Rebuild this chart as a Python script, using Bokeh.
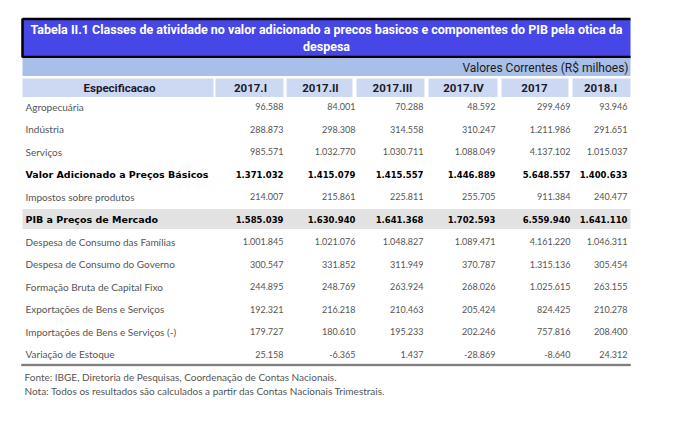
from bokeh.plotting import figure
from bokeh.models import Range1d, ColumnDataSource
from bokeh.core.properties import value
from bokeh.embed import file_html
from bokeh.resources import INLINE

# ---------------- data ----------------
title_lines = [
    "Tabela II.1 Classes de atividade no valor adicionado a precos basicos e componentes do PIB pela otica da",
    "despesa",
]
units_label = "Valores Correntes (R$ milhoes)"
header_first = "Especificacao"
periods = ["2017.I", "2017.II", "2017.III", "2017.IV", "2017", "2018.I"]
rows = [
    "Agropecuária",
    "Indústria",
    "Serviços",
    "Valor Adicionado a Preços Básicos",
    "Impostos sobre produtos",
    "PIB a Preços de Mercado",
    "Despesa de Consumo das Famílias",
    "Despesa de Consumo do Governo",
    "Formação Bruta de Capital Fixo",
    "Exportações de Bens e Serviços",
    "Importações de Bens e Serviços (-)",
    "Variação de Estoque",
]
bold_rows = ["Valor Adicionado a Preços Básicos", "PIB a Preços de Mercado"]
shaded_rows = ["PIB a Preços de Mercado"]

v_2017_I = [96588, 288873, 985571, 1371032, 214007, 1585039, 1001845, 300547, 244895, 192321, 179727, 25158]
v_2017_II = [84001, 298308, 1032770, 1415079, 215861, 1630940, 1021076, 331852, 248769, 216218, 180610, -6365]
v_2017_III = [70288, 314558, 1030711, 1415557, 225811, 1641368, 1048827, 311949, 263924, 210463, 195233, 1437]
v_2017_IV = [48592, 310247, 1088049, 1446889, 255705, 1702593, 1089471, 370787, 268026, 205424, 202246, -28869]
v_2017 = [299469, 1211986, 4137102, 5648557, 911384, 6559940, 4161220, 1315136, 1025615, 824425, 757816, -8640]
v_2018_I = [93946, 291651, 1015037, 1400633, 240477, 1641110, 1046311, 305454, 263155, 210278, 208400, 24312]
series = [v_2017_I, v_2017_II, v_2017_III, v_2017_IV, v_2017, v_2018_I]

footnotes = [
    "Fonte: IBGE, Diretoria de Pesquisas, Coordenação de Contas Nacionais.",
    "Nota: Todos os resultados são calculados a partir das Contas Nacionais Trimestrais.",
]

# ---------------- layout ----------------
LEFT, RIGHT = 22, 630
ROW0, ROWSTEP = 106, 22.5
col_left = [215, 286, 356, 428, 501, 572]
col_right = [283, 352, 424, 497, 568, 630]
num_right = [283, 355, 423, 495, 570, 627]
hdr_center = [250, 320, 392, 463, 534, 600]

LIGHT = value("Lato")
BOLD = value("DejaVu Sans")
TITLE = value("Roboto")


def fmt(n):
    s = f"{abs(n):,}".replace(",", ".")
    return ("-" if n < 0 else "") + s


p = figure(width=657, height=411,
           x_range=Range1d(0, 657), y_range=Range1d(411, 0),
           output_backend="svg", toolbar_location=None,
           x_axis_location=None, y_axis_location=None,
           min_border=0, outline_line_color=None,
           background_fill_color="white", border_fill_color="white")
p.grid.visible = False

# title box
p.quad(left=[LEFT], right=[RIGHT], top=[18], bottom=[57],
       fill_color="#4747E8", line_color=None)
p.segment(x0=[LEFT, LEFT, LEFT], y0=[18.5, 56.5, 18], x1=[RIGHT, RIGHT, LEFT], y1=[18.5, 56.5, 57],
          line_color="black", line_width=2.5)
p.text(x=[326, 326], y=[29, 46], text=title_lines, text_align="center",
       text_baseline="middle", text_color="white", text_font=TITLE,
       text_font_style="bold", text_font_size="12.5px")

# units band
p.quad(left=[LEFT], right=[RIGHT], top=[57.5], bottom=[75.5],
       fill_color="#A8BFE8", line_color=None)
p.text(x=[628], y=[67], text=[units_label], text_align="right",
       text_baseline="middle", text_color="#1a1a1a", text_font=TITLE,
       text_font_size="12px")

# header row
p.quad(left=[LEFT] + col_left, right=[213] + col_right,
       top=[78] * 7, bottom=[96.5] * 7, fill_color="#CDD9F3", line_color=None)
p.text(x=[119] + hdr_center, y=[87.5] * 7, text=[header_first] + periods,
       text_align="center", text_baseline="middle", text_color="#1a1a2a",
       text_font=value("Roboto"), text_font_style="bold", text_font_size="11.5px")

# shaded rows
for i, r in enumerate(rows):
    if r in shaded_rows:
        yc = ROW0 + i * ROWSTEP
        p.quad(left=[LEFT], right=[RIGHT], top=[yc - 10], bottom=[yc + 10],
               fill_color="#E2E2E2", line_color=None)

# row labels and values
for i, r in enumerate(rows):
    yc = ROW0 + i * ROWSTEP
    bold = r in bold_rows
    p.text(x=[25], y=[yc], text=[r], text_align="left", text_baseline="middle",
           text_color="black" if bold else "#555555",
           text_font=BOLD if bold else LIGHT,
           text_font_style="bold" if bold else "normal",
           text_font_size="9.5px" if bold else "10px")
    src = ColumnDataSource(dict(x=num_right, y=[yc] * 6,
                                t=[fmt(s[i]) for s in series]))
    p.text(x="x", y="y", text="t", source=src, text_align="right",
           text_baseline="middle",
           text_color="black" if bold else "#555555",
           text_font=BOLD if bold else LIGHT,
           text_font_style="bold" if bold else "normal",
           text_font_size="8.5px" if bold else "9px")

# bottom rule
yb = ROW0 + (len(rows) - 1) * ROWSTEP + 11
p.segment(x0=[21], y0=[yb], x1=[RIGHT], y1=[yb], line_color="#aaaaaa", line_width=2.5)
p.segment(x0=[21], y0=[yb], x1=[RIGHT], y1=[yb], line_color="#555555", line_width=2,
          line_dash="1 1")

# footnotes
p.text(x=[24, 24], y=[376, 390], text=footnotes, text_align="left",
       text_baseline="middle", text_color="#555555", text_font=LIGHT,
       text_font_size="10px")

open("out.html", "w").write(file_html(p, INLINE))
